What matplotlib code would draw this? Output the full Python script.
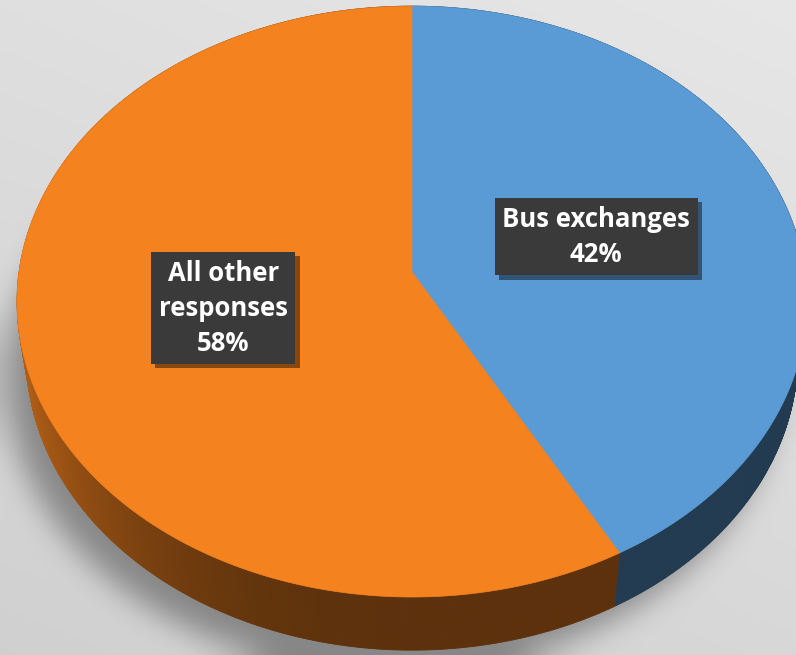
import numpy as np
import matplotlib
matplotlib.use("Agg")
import matplotlib.pyplot as plt
from matplotlib.path import Path
from matplotlib.collections import PolyCollection
from matplotlib.patches import Polygon
import matplotlib.patheffects as pe

# ---------------- data ----------------
categories = ["Bus exchanges", "All other\nresponses"]
values = [42, 58]
pct_labels = ["42%", "58%"]
top_colors = ["#5B9BD5", "#F4821F"]

# ---------------- projection (3D pie seen in perspective) -------------
W, H = 796, 655
CX, CY = 412.0, 272.0
FOC = 2621.0
DIST = 6.67
ELEV = np.radians(48.1)
THICK = 0.217
se, ce = np.sin(ELEV), np.cos(ELEV)


def proj(theta_deg, r=1.0, y=0.0):
    t = np.radians(theta_deg)
    X = r * np.sin(t)
    Z = -r * np.cos(t)
    w = DIST - (y * se + Z * ce)
    v = y * ce - Z * se
    return CX + FOC * X / w, CY - FOC * v / w


fig = plt.figure(figsize=(W / 100, H / 100), dpi=100)
ax = fig.add_axes([0, 0, 1, 1])
ax.set_xlim(0, W)
ax.set_ylim(H, 0)
ax.axis("off")

# ---------------- background with soft shadow ----------------
yy, xx = np.mgrid[0:H, 0:W]
base = 0.905 - 0.06 * (yy / H) - 0.03 * (1 - xx / W)
th = np.linspace(0, 360, 400)
bx, by = proj(th, 1.0, -THICK)
bx = bx - 20
by = by + 22
mask = Path(np.column_stack([bx, by])).contains_points(
    np.column_stack([xx.ravel() + 0.5, yy.ravel() + 0.5])).reshape(H, W).astype(float)


def box_blur(a, r, axis):
    pad = [(0, 0), (0, 0)]
    pad[axis] = (r + 1, r)
    ap = np.pad(a, pad, mode="edge")
    c = np.cumsum(ap, axis=axis)
    if axis == 0:
        return (c[2 * r + 1:, :] - c[:-2 * r - 1, :]) / (2 * r + 1)
    return (c[:, 2 * r + 1:] - c[:, :-2 * r - 1]) / (2 * r + 1)


sh = mask
for _ in range(3):
    sh = box_blur(sh, 14, 0)
    sh = box_blur(sh, 14, 1)
bg = base * (1 - 0.36 * sh)
bg_rgb = np.dstack([bg, bg, bg])
ax.imshow(bg_rgb, extent=[0, W, H, 0], zorder=0, interpolation="bilinear")

# ---------------- slices ----------------
total = float(sum(values))
starts = np.cumsum([0] + values[:-1]) / total * 360.0
ends = np.cumsum(values) / total * 360.0

# side walls
polys = []
for i in range(len(values)):
    a0, a1 = starts[i], ends[i]
    n = max(int((a1 - a0) * 3), 4)
    tt = np.linspace(a0, a1, n + 1)
    rgb = np.array(matplotlib.colors.to_rgb(top_colors[i]))
    for j in range(n):
        ta, tb = tt[j], tt[j + 1]
        xa, ya = proj(ta)
        xb, yb = proj(tb)
        xc, yc = proj(tb, 1.0, -THICK)
        xd, yd = proj(ta, 1.0, -THICK)
        tm = np.radians(0.5 * (ta + tb))
        k = 0.38 + 0.38 * max(0.0, -np.sin(tm)) ** 2.5
        depth = -np.cos(tm)
        polys.append(([(xa, ya), (xb, yb), (xc, yc), (xd, yd)], depth, tuple(rgb * k)))
polys.sort(key=lambda p: p[1])
pc = PolyCollection([p[0] for p in polys], facecolors=[p[2] for p in polys],
                    edgecolors=[p[2] for p in polys], linewidths=0.6, zorder=2)
ax.add_collection(pc)

# top faces
for i in range(len(values)):
    tt = np.linspace(starts[i], ends[i], 300)
    px, py = proj(tt)
    verts = [(CX, CY)] + list(zip(px, py))
    ax.add_patch(Polygon(verts, closed=True, facecolor=top_colors[i],
                         edgecolor=top_colors[i], linewidth=0.5, zorder=3))

# ---------------- labels ----------------
for i in range(len(values)):
    mid = 0.5 * (starts[i] + ends[i])
    lx, ly = proj(mid, 0.49)
    t = ax.text(lx, ly, categories[i] + "\n" + pct_labels[i], ha="center", va="center",
                color="white", fontsize=18.5, fontweight="bold", family="Open Sans",
                linespacing=1.38, zorder=5,
                bbox=dict(boxstyle="square,pad=0.3", facecolor="#3a3a3a",
                          edgecolor="none"))
    t.get_bbox_patch().set_path_effects(
        [pe.SimplePatchShadow(offset=(3, -3), alpha=0.45, shadow_rgbFace="black"), pe.Normal()])

fig.savefig("out.png", dpi=100)
